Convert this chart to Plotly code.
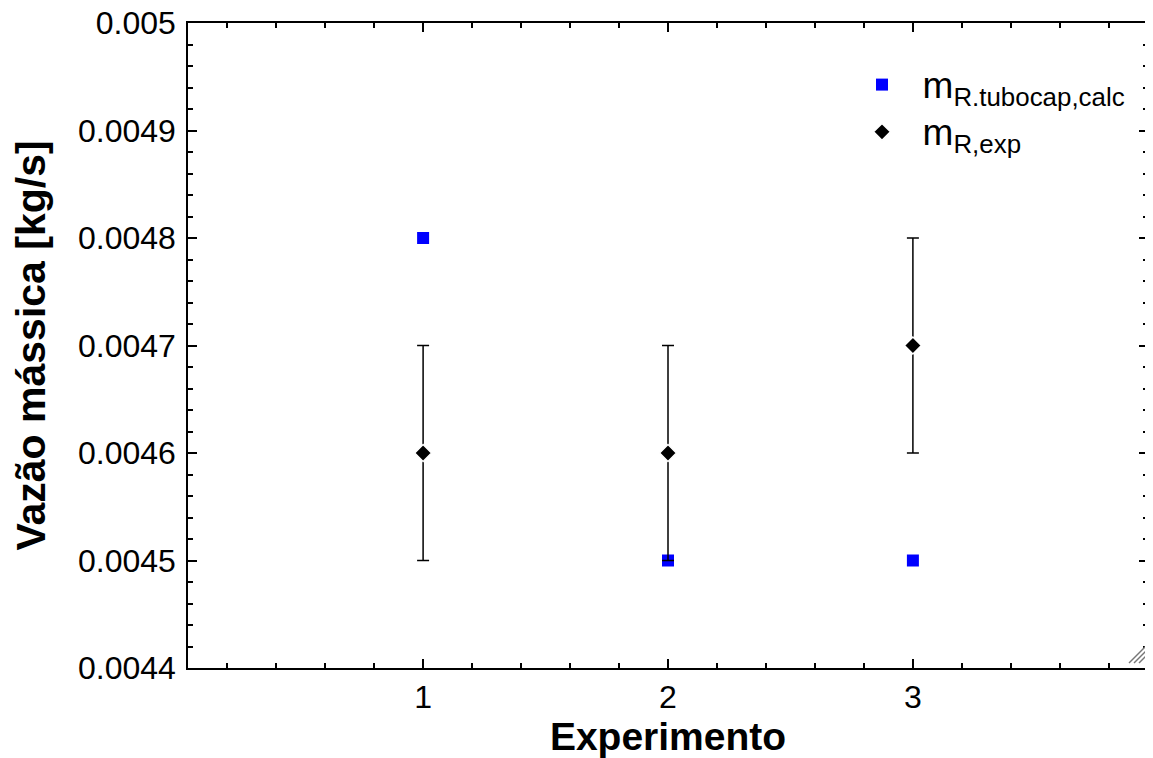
import plotly.graph_objects as go

experimentos = [1, 2, 3]
m_calc = [0.0048, 0.0045, 0.0045]
m_exp = [0.0046, 0.0046, 0.0047]
m_exp_err = [0.0001, 0.0001, 0.0001]
y_tickvals = [0.0044, 0.0045, 0.0046, 0.0047, 0.0048, 0.0049, 0.005]
y_ticktext = ["0.0044", "0.0045", "0.0046", "0.0047", "0.0048", "0.0049", "0.005"]
x_tickvals = [1, 2, 3]

FONT = "Liberation Sans, Arial, sans-serif"

# the page body has an 8px margin; the figure is sized so its plot area lands where the reference's does
W, H = 1145, 750
ML, MR, MT, MB = 180, 5, 15, 90
PW, PH = W - ML - MR, H - MT - MB

LABEL = "<span style='font-size:37px'>\u00a0\u00a0m<sub>{}</sub></span>"

fig = go.Figure()
fig.add_trace(go.Scatter(
    x=experimentos, y=m_calc, mode="markers",
    name=LABEL.format("R.tubocap,calc"),
    marker=dict(symbol="square", size=12, color="#0000ff", line=dict(width=0)),
))
fig.add_trace(go.Scatter(
    x=experimentos, y=m_exp, mode="markers",
    name=LABEL.format("R,exp"),
    marker=dict(symbol="diamond", size=13, color="black", line=dict(width=1.5, color="white")),
    error_y=dict(type="data", array=m_exp_err, visible=True, color="black", thickness=1.5, width=6),
))

fig.update_layout(
    width=W, height=H,
    margin=dict(l=ML, r=MR, t=MT, b=MB, autoexpand=False),
    paper_bgcolor="white", plot_bgcolor="white",
    font=dict(family=FONT, color="black", size=32),
    showlegend=True,
    legend=dict(
        x=674 / PW, y=(PH - 33) / PH, xanchor="left", yanchor="top",
        bgcolor="rgba(0,0,0,0)", font=dict(size=34, family=FONT),
        tracegroupgap=0,
    ),
)

fig.update_xaxes(
    range=[0.04, 3.96], tickvals=x_tickvals, ticks="inside", ticklen=9, tickwidth=1.5,
    tickcolor="black", showline=True, linecolor="black", linewidth=1.5, mirror="allticks",
    showgrid=False, zeroline=False, tickfont=dict(size=32), automargin=False,
    minor=dict(dtick=0.2, tick0=0, ticks="inside", ticklen=5, tickwidth=1.5, tickcolor="black"),
    title=dict(text="<b>Experimento</b>", font=dict(size=39), standoff=2),
    ticklabelstandoff=0, ticklabeloverflow="allow",
)
fig.update_yaxes(
    range=[0.0044, 0.005], tickvals=y_tickvals, ticktext=y_ticktext, ticks="inside",
    ticklen=9, tickwidth=1.5, tickcolor="black", showline=True, linecolor="black",
    linewidth=1.5, mirror="allticks", showgrid=False, zeroline=False,
    tickfont=dict(size=32), automargin=False,
    minor=dict(dtick=0.00002, tick0=0.0044, ticks="inside", ticklen=5, tickwidth=1.5, tickcolor="black"),
    title=dict(text="<b>Vazão mássica [kg/s]</b>", font=dict(size=41), standoff=20),
    ticklabelstandoff=4, ticklabeloverflow="allow",
)

# window resize grip decoration in the lower-right corner (plot-area pixel offsets)
def fx(p):
    return p / PW

def fy(p):
    return p / PH

for (x0, y0, x1, y1) in [(941, 5, 958, 22), (946, 5, 958, 17), (951, 5, 958, 12)]:
    fig.add_shape(type="line", xref="x domain", yref="y domain",
                  x0=fx(x0), y0=fy(y0), x1=fx(x1), y1=fy(y1),
                  line=dict(color="#777777", width=1.5))

fig.write_html("out.html")
